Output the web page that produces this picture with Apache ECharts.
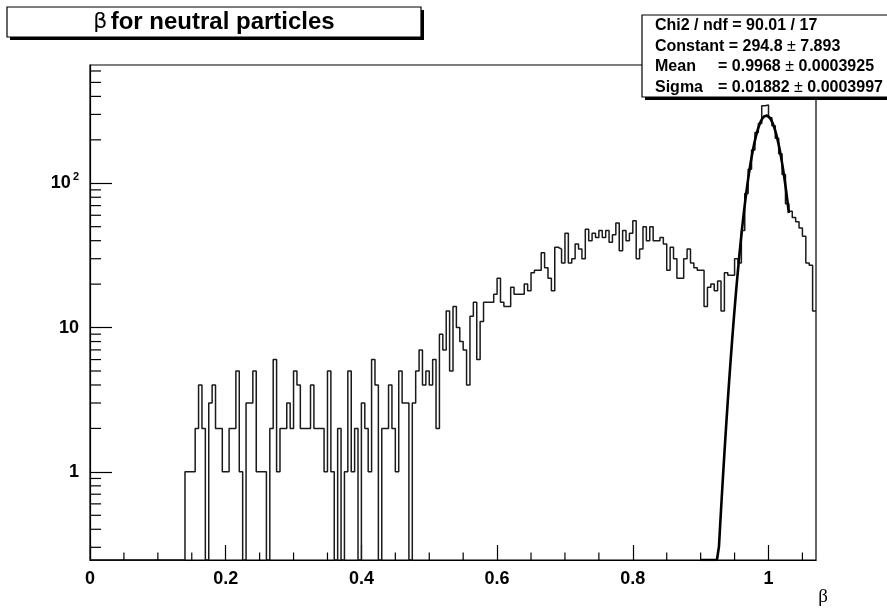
<!DOCTYPE html>
<html><head><meta charset="utf-8">
<script src="https://cdn.jsdelivr.net/npm/echarts@6/dist/echarts.min.js"></script>
<style>html,body{margin:0;padding:0;background:#fff}#c{width:887px;height:611px}</style>
</head><body><div id="c"></div>
<script>
// ---------------- data ----------------
const BIN_WIDTH = 0.005;
const X_MIN = 0, X_MAX = 1.07;
const Y_MIN = 0.245, Y_MAX = 660;

// bin contents, 214 bins of width 0.005 from 0 to 1.07
const counts = [
  0,0,0,0,0,0,0,0,0,0,            // 0-9
  0,0,0,0,0,0,0,0,0,0,            // 10-19
  0,0,0,0,0,0,0,0,                // 20-27
  1,1,1,2,4,2,0,3,4,2,2,1,        // 28-39
  1,2,2,5,1,0,3,3,5,1,            // 40-49
  1,1,0,2,6,1,2,2,3,2,            // 50-59
  5,4,2,2,2,4,2,2,2,1,            // 60-69
  5,1,0,2,0,1,5,1,2,0,            // 70-79
  3,2,1,6,4,0,2,2,4,2,            // 80-89
  1,5,3,3,0,3,5,7,4,5,            // 90-99
  4,6,2,9,7,13,5,14,10,8,         // 100-109
  7,4,12,15,6,11,15,15,15,17,     // 110-119
  22,15,14,14,19,17,17,17,20,18,  // 120-129
  24,25,25,33,26,22,18,36,35,28,  // 130-139
  45,28,30,38,35,30,48,40,45,42,  // 140-149
  47,42,47,39,44,53,34,47,40,45,  // 150-159
  55,30,35,50,40,50,40,40,42,38,  // 160-169
  25,36,30,22,22,30,35,28,26,25,  // 170-179
  25,14,19,20,18,21,13,24,23,23,  // 180-189
  30,28,47,85,125,170,225,260,345,348, // 190-199
  285,250,205,160,115,72,64,58,54,49,  // 200-209
  43,28,27,13                     // 210-213
];

// fit results (from the stats box)
const FIT_CONSTANT = 294.8;
const FIT_MEAN = 0.9968;
const FIT_SIGMA = 0.01882;
const FIT_RANGE = [0.90, 1.03];

const xMajorTicks = [0, 0.2, 0.4, 0.6, 0.8, 1];
const xMinorTicks = [0.05,0.1,0.15,0.25,0.3,0.35,0.45,0.5,0.55,0.65,0.7,0.75,0.85,0.9,0.95,1.05];
const yMinorTicks = [0.3,0.4,0.5,0.6,0.7,0.8,0.9, 2,3,4,5,6,7,8,9, 20,30,40,50,60,70,80,90, 200,300,400,500,600];

const titleText = 'for neutral particles';
const statsLines = [
  ['Chi2 / ndf = 90.01 / 17', null],
  ['Constant = 294.8 ', '7.893'],
  ['Mean', '= 0.9968 ', '0.0003925'],
  ['Sigma', '= 0.01882 ', '0.0003997']
];

// ---------------- build ----------------
const histData = counts.map((c, i) => [+(i * BIN_WIDTH).toFixed(4), Math.max(c, Y_MIN)]);
histData.push([X_MAX, Math.max(counts[counts.length - 1], Y_MIN)]);

const fitData = [];
for (let k = 0; k <= Math.round((FIT_RANGE[1] - FIT_RANGE[0]) / 0.001); k++) {
  const x = FIT_RANGE[0] + k * 0.001;
  const z = (x - FIT_MEAN) / FIT_SIGMA;
  fitData.push([x, Math.max(FIT_CONSTANT * Math.exp(-0.5 * z * z), Y_MIN)]);
}

const FONT = '"Liberation Sans", Arial, Helvetica, sans-serif';
const chart = echarts.init(document.getElementById('c'), null, {renderer: 'canvas'});

const option = {
  animation: false,
  backgroundColor: '#fff',
  grid: {left: 90, right: 71, top: 65, bottom: 51, show: true, borderColor: '#000', borderWidth: 1.2, backgroundColor: 'transparent'},
  xAxis: {
    type: 'value', min: X_MIN, max: X_MAX, interval: 0.2,
    axisLine: {show: true, onZero: false, lineStyle: {color: '#000', width: 1.2}},
    axisTick: {show: true, inside: true, length: 15, lineStyle: {color: '#000', width: 1.2}},
    minorTick: {show: false},
    splitLine: {show: false},
    axisLabel: {
      showMaxLabel: false, margin: 10, color: '#000',
      fontFamily: FONT, fontWeight: 'bold', fontSize: 18,
      formatter: v => xMajorTicks.some(t => Math.abs(t - v) < 1e-6) ? String(+v.toFixed(1)) : ''
    }
  },
  yAxis: {
    type: 'log', logBase: 10, min: Y_MIN, max: Y_MAX,
    axisLine: {show: true, lineStyle: {color: '#000', width: 1.2}},
    axisTick: {show: true, inside: true, length: 22, lineStyle: {color: '#000', width: 1.2}},
    splitLine: {show: false},
    axisLabel: {
      margin: 11, color: '#000', fontFamily: FONT, fontWeight: 'bold', fontSize: 18,
      showMinLabel: false, showMaxLabel: false,
      formatter: v => {
        const l = Math.log10(v);
        if (Math.abs(l - Math.round(l)) > 1e-6) return '';
        const e = Math.round(l);
        if (e === 0) return '1';
        if (e === 1) return '10';
        return '{b|10}{s|' + e + '}';
      },
      rich: {
        b: {fontFamily: FONT, fontWeight: 'bold', fontSize: 18, color: '#000'},
        s: {fontFamily: FONT, fontWeight: 'bold', fontSize: 11, color: '#000', padding: [0, 0, 12, 2]}
      }
    }
  },
  series: [
    {
      type: 'line', data: histData, step: 'end', symbol: 'none', clip: true,
      lineStyle: {color: '#1a1a1a', width: 1.5}, silent: true, z: 3
    },
    {
      type: 'line', data: fitData, symbol: 'none', clip: true,
      lineStyle: {color: '#000', width: 2.6}, silent: true, z: 4
    },
    {
      type: 'custom', coordinateSystem: 'cartesian2d', silent: true, clip: false, z: 5,
      data: xMinorTicks.map(v => [v, Y_MIN]),
      renderItem: (params, api) => {
        const p = api.coord([api.value(0), Y_MIN]);
        return {type: 'line', shape: {x1: p[0], y1: p[1], x2: p[0], y2: p[1] - 7.5}, style: {stroke: '#000', lineWidth: 1.2}};
      }
    },
    {
      type: 'custom', coordinateSystem: 'cartesian2d', silent: true, clip: false, z: 5,
      data: yMinorTicks.map(v => [X_MIN, v]),
      renderItem: (params, api) => {
        const p = api.coord([X_MIN, api.value(1)]);
        return {type: 'line', shape: {x1: p[0], y1: p[1], x2: p[0] + 11, y2: p[1]}, style: {stroke: '#000', lineWidth: 1.2}};
      }
    }
  ],
  graphic: [
    // title box
    {type: 'rect', shape: {x: 10, y: 10, width: 414, height: 30}, style: {fill: '#000'}, z: 10},
    {type: 'rect', shape: {x: 7, y: 7, width: 414, height: 30}, style: {fill: '#fff', stroke: '#000', lineWidth: 1.2}, z: 11},
    {type: 'text', x: 214, y: 22, z: 12, style: {
      text: '{g|β} {t|' + titleText + '}', align: 'center', verticalAlign: 'middle',
      rich: {
        g: {fontFamily: '"DejaVu Sans", sans-serif', fontWeight: 'normal', fontSize: 22, fill: '#000'},
        t: {fontFamily: FONT, fontWeight: 'bold', fontSize: 24, fill: '#000'}
      }
    }},
    // stats box
    {type: 'rect', shape: {x: 645, y: 18, width: 260, height: 82}, style: {fill: '#000'}, z: 10},
    {type: 'rect', shape: {x: 642, y: 15, width: 260, height: 82}, style: {fill: '#fff', stroke: '#000', lineWidth: 1.2}, z: 11},
    {type: 'text', x: 655, y: 26, z: 12, style: {text: statsLines[0][0], verticalAlign: 'middle', font: 'bold 16px ' + FONT, fill: '#000'}},
    {type: 'text', x: 655, y: 47, z: 12, style: {text: '{b|' + statsLines[1][0] + '}{n|±}{b| ' + statsLines[1][1] + '}', verticalAlign: 'middle',
      rich: {b: {font: 'bold 16px ' + FONT, fill: '#000'}, n: {font: '16px ' + FONT, fill: '#000'}}}},
    {type: 'text', x: 655, y: 67, z: 12, style: {text: statsLines[2][0], verticalAlign: 'middle', font: 'bold 16px ' + FONT, fill: '#000'}},
    {type: 'text', x: 718, y: 67, z: 12, style: {text: '{b|' + statsLines[2][1] + '}{n|±}{b| ' + statsLines[2][2] + '}', verticalAlign: 'middle',
      rich: {b: {font: 'bold 16px ' + FONT, fill: '#000'}, n: {font: '16px ' + FONT, fill: '#000'}}}},
    {type: 'text', x: 655, y: 88, z: 12, style: {text: statsLines[3][0], verticalAlign: 'middle', font: 'bold 16px ' + FONT, fill: '#000'}},
    {type: 'text', x: 718, y: 88, z: 12, style: {text: '{b|' + statsLines[3][1] + '}{n|±}{b| ' + statsLines[3][2] + '}', verticalAlign: 'middle',
      rich: {b: {font: 'bold 16px ' + FONT, fill: '#000'}, n: {font: '16px ' + FONT, fill: '#000'}}}},
    // axis title
    {type: 'text', x: 823, y: 597, z: 12, style: {text: 'β', align: 'center', verticalAlign: 'middle', font: '19px "Liberation Serif", "DejaVu Serif", serif', fill: '#000'}}
  ]
};
chart.setOption(option);
</script>
</body></html>
